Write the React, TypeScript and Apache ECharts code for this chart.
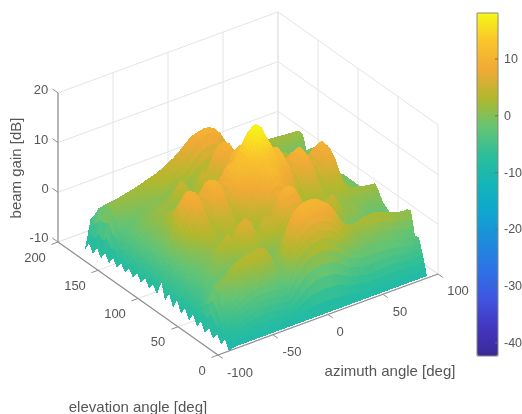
import React, { useEffect, useRef } from "react";
import * as echarts from "echarts";

const azimuth = [-90,-85,-80,-75,-70,-65,-60,-55,-50,-45,-40,-35,-30,-25,-20,-15,-10,-5,0,5,10,15,20,25,30,35,40,45,50,55,60,65,70,75,80,85,90];
const elevation = [0,5,10,15,20,25,30,35,40,45,50,55,60,65,70,75,80,85,90,95,100,105,110,115,120,125,130,135,140,145,150,155,160,165,170,175,180];
const gain = [
[-10,-9.6,-9.6,-9.6,-9.6,-9.6,-9.6,-9.6,-9.6,-9.6,-9.6,-9.6,-9.6,-9.6,-9.6,-9.6,-9.6,-9.6,-9.6,-9.6,-9.6,-9.6,-9.6,-9.6,-9.6,-9.6,-9.6,-9.6,-9.6,-9.6,-9.6,-9.6,-9.6,-9.6,-9.6,-9.6,-9.6],
[-8.3,-8,-7.5,-7,-6.6,-6.3,-6.2,-6.1,-6,-6.1,-6.3,-6.6,-7,-6,-5,-4,-3.3,-3,-3,-3,-3.2,-3.8,-4.5,-5,-5.2,-5.5,-5.8,-5.8,-5.6,-5.5,-5.5,-5.5,-5.7,-5.8,-6,-6,-6],
[-9.8,-7,-5.5,-4.5,-3.8,-3.3,-3,-2.8,-2.7,-2.7,-2.9,-3.5,-3,-0.5,1.2,2.5,3.4,3.8,4,3.8,3.4,2.6,1.4,0,-0.5,-1,-1,-1,-1,-1.2,-1.3,-1.5,-1.8,-2.2,-2.6,-2.9,-3],
[-8.3,-4.5,-2.8,-1.5,-0.6,0,0.4,0.7,0.9,0.9,0.6,-0.8,-1.5,3,5.5,7,8,8.5,8.7,8.5,8,7,5.6,3.6,2.2,0.8,-0.5,-0.8,-1,-1.2,-1.3,-1.6,-2,-2.5,-2.8,-3,-3.2],
[-9.8,-1.5,-0.3,0.8,2,2.6,3,3.4,3.7,3.9,3.6,1.5,-1,4,7,8.8,9.7,10.2,10.4,10.2,9.7,8.8,7.2,5,3.6,2.6,2.2,2.4,2.8,3,3,2.7,2.3,2,1.7,1.4,1.3],
[-8.2,0,0.5,1.3,2.5,3,3.5,3.8,4,4.2,3.8,1.8,-1.3,2.5,6,8.4,9.5,10,10.2,10,9.5,8.3,6.5,4.4,3.3,2.5,2,2.3,2.7,2.8,2.8,2.5,2,1.6,1.2,1,1],
[-9.8,-1.5,-1,-0.5,0.5,0.8,1,1.2,1.4,1.5,1.2,0.3,-1.5,0.5,3.5,5.5,7,7.5,7.6,7.4,6.8,5.4,3.6,1.8,0.8,0.5,0.5,0.8,1,1,0.8,0.4,-0.2,-0.6,-1,-1.2,-1.2],
[-8,-3,-2.6,-2,-1.5,-1,-0.8,-0.5,-0.2,0.3,0.5,0.3,-0.5,-0.5,0.5,1.5,2.5,3,3,3,2.5,1.5,0.5,-0.5,-1,-1,-1,-1,-1,-1.2,-1.5,-1.8,-2.2,-2.6,-3,-3,-3],
[-9.7,-4.5,-3,-2,-1.3,-0.7,-0.5,0,1,2.5,3.5,2.5,1,1,1,1.5,2.5,4,4.5,4,2.5,1.5,0.5,0,0,0.5,0.5,0,-0.5,-1,-1.5,-2,-2.4,-2.8,-3,-3,-3],
[-7.8,-5.5,-3.2,-1.5,-0.5,0.3,1,1.8,3,5.8,6.5,5.5,2.5,2.8,4.8,4,6,8.5,9.2,8.5,6,3.8,4.2,2.4,1.8,3.2,3.8,2.3,0.8,0,-0.5,-1,-1.8,-2.3,-2.5,-2.5,-2.5],
[-9.6,-6.2,-3.9,-1.8,-0.3,1.5,3.5,5,3.5,6.2,7,6.2,3,3.5,6,5,7.5,9.6,10.3,9.6,7.5,5,5.5,3.2,2.5,4.8,5.5,3.8,1.5,1.5,1.5,0,-1,-1.8,-1.8,-1.6,-1.5],
[-7.6,-5.2,-3.2,-1.5,-0.7,1,2.5,3.5,2,4.5,5.5,4.2,2,2.5,4.5,3.8,5.5,8.6,9.4,8.6,5.5,3.8,4,2.2,1.5,3.2,4,2.2,0.6,0.8,1,0,-0.5,-0.8,-0.8,-0.8,-1],
[-9.4,-6.2,-3.9,-2.3,-1,0.5,1.5,1.5,1,1.5,2,1.5,1,1.5,2,2.5,3.5,5,5.5,5,4,3,2.5,1.5,0.8,1,1.2,0.8,0.4,0.8,1.2,1,0.8,1,1,0.8,0.6],
[-7.2,-5,-2.6,-1.2,-0.5,1.5,3,3,1.8,3,4,3.2,1.8,2.8,4.5,5,7,9.6,10.6,9.6,7,5,4.5,2.8,1.8,3,4,2.8,1.5,2.5,3,2.5,2,2,2,1.8,1.7],
[-9.2,-6,-3.1,-1.3,0.5,3,4.5,4,2.2,3.8,5,4.2,2.2,3.8,6,7,8.5,10.8,11.8,10.8,8.5,7,6,3.8,2.2,4,5,3.8,2,3.5,4,3,2,1.5,1.2,1,0.8],
[-7,-4.9,-2,-0.4,1.8,5,6,5.2,2.6,5.2,6.5,5.8,3,5.5,8,8.5,9.5,11.3,11.7,11.3,9.5,8.5,8,5.5,3,5.6,6.5,5.2,2.6,5.2,5.8,4.5,2,0.7,0.3,0,-0.2],
[-9,-6.1,-2.7,-0.5,3,6.8,8,7.2,3.5,7,8.5,7.8,4,7.8,10,10.2,12,13.8,14.5,13.8,12,10.2,10,7.8,4,7.8,8.6,7,3.5,7.2,8,6.8,3.3,0.6,-0.3,-0.6,-0.8],
[-5.5,-5,-1.7,0.7,4.5,8,9,8.3,4.2,8.2,9.7,9,4.8,9,11.3,11.2,13.8,16,17,16,13.8,11.2,11.3,9,4.8,9,9.8,8.2,4.2,8.5,9.3,8,4.5,1.2,0,-0.7,-1],
[-8.8,-6,-2.3,0.8,5.5,8.5,9.5,8.8,4.5,8.7,10.2,9.5,5,9.5,11.8,11.5,14.5,17,18.2,17,14.5,11.5,11.8,9.5,5,9.5,10.3,8.7,4.5,9,9.8,8.5,5,1.5,0,-0.7,-1],
[-7.5,-4.6,-1.5,0.7,4,7.5,8.8,8,4,8,9.5,9,4.8,9,11.3,11.2,13.8,16,17,16,13.8,11.2,11.3,9,4.8,8.8,9.3,7.5,3.8,8,8.8,7.5,4,1,0,-0.7,-1],
[-8.7,-5.6,-2.5,-0.5,1.5,5.5,7,6.2,3,6.2,8.2,7.5,4,7.8,10,10.2,12,13.8,14.5,13.8,12,10.2,10,7.8,4,7.5,8,6.5,3,6.5,7.2,6,2.8,0.4,-0.3,-0.7,-1],
[-7.3,-4.6,-1.7,-0.3,1,3.5,5,4.5,2.4,4.5,6,5.5,3,5.5,8,8.5,9.5,11.3,11.7,11.3,9.5,8.5,8,5.5,3,5.5,6.5,5.2,2.8,5,5.5,4,1.5,0.2,-0.4,-0.8,-1],
[-8.8,-5.5,-2.3,-0.6,1,2.5,3.5,3.3,1.8,3.2,4.8,4,2.2,3.8,6,7,8.5,10.8,11.6,10.8,8.5,7,6,3.8,2.2,4,5.5,4.5,2.8,4,4.2,3,1,-0.3,-1,-1.2,-1.4],
[-7.4,-4.4,-1.7,-0.6,0,1.5,2.5,2.5,1.5,2.5,3.6,3,1.8,2.8,4.5,5,7,9.5,10.4,9.5,7,5,4.5,2.8,1.8,3.2,4.5,3.5,2,3.5,3,1.5,0,-1,-1.5,-1.8,-2],
[-8.9,-5.2,-2.7,-1.2,0.5,1.3,2,1.8,1.4,1.2,1.4,1.2,0.8,1.5,2.5,3,4,5,5.5,5,3.5,2.5,2,1.5,1,1.5,2,1.5,1,1.5,1.5,0.5,-0.5,-1.2,-1.6,-2,-2.2],
[-7.6,-4,-1.9,0,0.5,1,1.4,1.2,1,2,3.5,3,1.5,2.2,4,3.5,5.5,8.2,9,8.2,5.5,3.5,4,2,2,3,3.5,3,1.8,2.8,2,1,-0.5,-1.2,-1.5,-1.8,-2],
[-9,-4.8,-2.3,-0.2,0.2,1,1.8,1.8,1.8,3.5,5.5,4.5,2.5,3,5.5,5,7.2,9.3,10,9.3,7.2,5,6,3,2.5,4,5,4,2.5,3.5,2.5,1.5,-0.3,-1.2,-1.5,-1.8,-2],
[-7.7,-3.6,-1.7,-0.8,-0.3,0.2,0.6,1,1.3,2.3,3.5,3,1.8,2.2,4,3.5,5.5,8.2,9,8.2,5.5,3.5,4.5,2.5,2.2,3.5,4.5,3.5,2,1.8,1,0.3,-0.5,-1.5,-2,-2,-2],
[-9.2,-4.4,-3,-2,-0.8,-0.5,0,0.5,0.8,1,1.2,1,0.5,0,0.5,1.5,2.5,4,4.5,4,2.5,1.5,1,1,1,2,2.5,2,1,0,-0.5,-0.7,-1,-1.3,-0.8,0.5,0.5],
[-7.8,-2.6,-2.3,-1.6,-0.8,-0.4,0,0.3,0.4,0.5,0.6,0.5,0,0.2,0.8,1.5,2.5,3,3,3,2.5,1.5,0.5,-0.3,-0.3,0.3,0.5,0.3,-0.2,-0.5,-0.8,-1,-1.4,-1.8,-1.5,-0.5,-0.6],
[-9.4,-1,-0.6,-0.2,0.3,0.6,1,1.4,1.8,2.4,3,3.6,4,4.5,5.5,7,8,9,9.3,9.1,8.2,6.8,4.5,2,0.5,0,-0.3,-0.4,-0.2,0,0.2,0.3,-0.8,-1,-1.2,-1.6,-1.8],
[-7.9,0.8,0.9,1,1.2,1.5,1.9,2.3,2.8,3.2,3.7,4.3,5,5.6,6.5,7.8,8.8,9.6,9.9,9.7,9,7.6,5.6,3.4,2,1.5,1.2,1.2,1.4,1.6,1.8,1.8,1.7,1.6,1.5,1.4,1.3],
[-9.6,0.6,0.9,1.2,1.6,1.8,2.1,2.4,2.8,3.1,3.5,4,4.7,5.2,6,7,8,8.6,8.8,8.6,8,6.8,5,3.2,2.3,1.8,1.7,1.7,1.8,2,2,2,1.9,1.8,1.7,1.6,1.5],
[-8,0,0.2,0.3,0.5,0.6,0.8,1,1.2,1.3,1.5,1.6,1.8,2,2.7,3.4,3.9,4.2,4.3,4.2,3.8,3,2,1,0.5,0,-0.2,-0.2,0,0.2,0.3,0.3,0.2,0,0,-0.2,-0.4],
[-9.8,-1,-1,-1,-1,-1,-1,-1,-1,-1,-1,-1,-1,-1,-0.6,0,0.4,0.6,0.6,0.6,0.4,-0.2,-0.8,-1.2,-1.5,-1.8,-2,-2,-1.9,-1.8,-1.7,-1.7,-1.8,-2,-2.2,-2.4,-2.5],
[-8.3,-3,-3,-3,-3,-3,-3,-3,-3,-3,-3,-3,-3,-3,-3,-3,-3,-3,-3,-3,-3,-3.5,-4,-4.5,-5,-5,-5,-5,-5,-5,-5,-5,-5,-5,-5,-5,-5],
[-10,-4.4,-4.5,-4.5,-5,-5,-5,-5,-5,-5,-5,-5,-5,-5,-5,-5,-5,-5,-5,-5,-5,-5.5,-6,-6.5,-7,-7,-7,-7,-7,-7,-7,-7,-7,-7,-7,-7,-7],
];

const azimuthTicks = [-100, -50, 0, 50, 100];
const elevationTicks = [0, 50, 100, 150, 200];
const gainTicks = [-10, 0, 10, 20];
const colorbarTicks = [10, 0, -10, -20, -30, -40];
const colorMin = -42.3;
const colorMax = 18.1;
const parula = ["#3a2a98","#4336c0","#3f55e0","#2d72e6","#1e8bdc","#0fa5d0","#14b5b8","#2cbe9a","#64c474","#b0b82e","#f0aa36","#fac42c","#f6f816"];

const FONT = '"Liberation Sans", Arial, sans-serif';
const TEXT = "#565656";

// oblique view of the box: pixels per unit along azimuth, elevation and gain
function project(az: number, el: number, z: number): number[] {
  const a = az + 100;
  return [218 + a * 1.1 - el * 0.8, 355 - a * 0.405 - el * 0.565 - (z + 10) * 4.97];
}

function line(p: number[], q: number[], stroke: string, z: number, lineWidth = 1) {
  return { type: "line", z, silent: true, shape: { x1: p[0], y1: p[1], x2: q[0], y2: q[1] }, style: { stroke, lineWidth } };
}
function label(text: string, x: number, y: number, fontSize = 13, extra: any = {}) {
  return { type: "text", z: 5, silent: true, x, y, ...extra, style: { text, fill: TEXT, font: `${fontSize}px ${FONT}`, align: "center", verticalAlign: "middle" } };
}

const SUB = 3;
function buildCells() {
  const out: number[][] = [];
  for (let j = elevation.length - 2; j >= 0; j--) {
    for (let i = azimuth.length - 2; i >= 0; i--) {
      const z00 = gain[j][i], z10 = gain[j][i + 1], z01 = gain[j + 1][i], z11 = gain[j + 1][i + 1];
      const at = (u: number, v: number) => z00 * (1 - u) * (1 - v) + z10 * u * (1 - v) + z01 * (1 - u) * v + z11 * u * v;
      const dA = azimuth[i + 1] - azimuth[i], dE = elevation[j + 1] - elevation[j];
      for (let s = SUB - 1; s >= 0; s--) {
        for (let r = SUB - 1; r >= 0; r--) {
          const u0 = r / SUB, u1 = (r + 1) / SUB, v0 = s / SUB, v1 = (s + 1) / SUB;
          out.push([
            azimuth[i] + u0 * dA, azimuth[i] + u1 * dA, elevation[j] + v0 * dE, elevation[j] + v1 * dE,
            at(u0, v0), at(u1, v0), at(u1, v1), at(u0, v1),
            at((u0 + u1) / 2, (v0 + v1) / 2),
          ]);
        }
      }
    }
  }
  return out;
}

function buildGraphics() {
  const g: any[] = [];
  const GRID = "#e4e4e4", AXIS = "#8f8f8f";
  // walls and floor
  for (const z of gainTicks) {
    g.push(line(project(-100, 200, z), project(100, 200, z), GRID, 1));
    g.push(line(project(100, 200, z), project(100, 0, z), GRID, 1));
  }
  for (const a of azimuthTicks) {
    g.push(line(project(a, 200, -10), project(a, 200, 20), GRID, 1));
    g.push(line(project(a, 0, -10), project(a, 200, -10), GRID, 1));
  }
  for (const e of elevationTicks) {
    g.push(line(project(100, e, -10), project(100, e, 20), GRID, 1));
    g.push(line(project(-100, e, -10), project(100, e, -10), GRID, 1));
  }
  // axes
  g.push(line(project(-100, 200, -10), project(-100, 200, 20), AXIS, 4, 1.2));
  g.push(line(project(-100, 200, -10), project(-100, 0, -10), AXIS, 4, 1.2));
  g.push(line(project(-100, 0, -10), project(100, 0, -10), AXIS, 4, 1.2));
  for (const z of gainTicks) g.push(line(project(-100, 200, z), project(-100, 207, z), AXIS, 4));
  for (const e of elevationTicks) g.push(line(project(-100, e, -10), project(-106, e, -10), AXIS, 4));
  for (const a of azimuthTicks) g.push(line(project(a, 0, -10), project(a, -6, -10), AXIS, 4));
  // tick labels
  const zPos = [[39, 237], [45, 188], [41, 139], [41, 89]];
  gainTicks.forEach((t, i) => g.push(label(String(t), zPos[i][0], zPos[i][1])));
  const ePos = [[202, 370], [158, 341], [115, 313], [75, 285], [35, 257]];
  elevationTicks.forEach((t, i) => g.push(label(String(t), ePos[i][0], ePos[i][1])));
  const aPos = [[240, 372], [292, 351], [340, 331], [400, 311], [458, 290]];
  azimuthTicks.forEach((t, i) => g.push(label(String(t), aPos[i][0], aPos[i][1])));
  // axis titles
  g.push(label("azimuth angle [deg]", 390, 370, 15));
  g.push(label("elevation angle [deg]", 138, 406, 15));
  g.push(label("beam gain [dB]", 15, 168, 15, { rotation: Math.PI / 2 }));
  // colorbar
  const barTop = 13, barBottom = 356, barL = 477, barR = 498;
  g.push({ type: "rect", z: 6, silent: true, shape: { x: barL, y: barTop, width: barR - barL, height: barBottom - barTop }, style: { fill: "none", stroke: "#8a8a7a", lineWidth: 1 } });
  for (const t of colorbarTicks) {
    const y = barTop + ((colorMax - t) / (colorMax - colorMin)) * (barBottom - barTop);
    g.push(line([barR - 3, y], [barR, y], "#6f6f5a", 6));
    g.push({ type: "text", z: 6, silent: true, x: 504, y, style: { text: String(t), fill: TEXT, font: `12.5px ${FONT}`, align: "left", verticalAlign: "middle" } });
  }
  return g;
}

export default function App() {
  const ref = useRef<HTMLDivElement>(null);
  useEffect(() => {
    document.body.style.margin = "0";
    const chart = echarts.init(ref.current!, undefined, { renderer: "svg" });
    chart.setOption({
      animation: false,
      backgroundColor: "#ffffff",
      graphic: { elements: buildGraphics() },
      visualMap: {
        type: "continuous",
        min: colorMin,
        max: colorMax,
        dimension: 8,
        seriesIndex: 0,
        left: 477,
        top: 13,
        padding: 0,
        itemWidth: 21,
        itemHeight: 343,
        calculable: false,
        hoverLink: false,
        text: null,
        inRange: { color: parula },
      },
      series: [
        {
          type: "custom",
          coordinateSystem: "none",
          silent: true,
          clip: false,
          z: 3,
          progressive: 0,
          data: buildCells(),
          renderItem: (_p: any, api: any) => {
            const a0 = api.value(0), a1 = api.value(1), e0 = api.value(2), e1 = api.value(3);
            return {
              type: "polygon",
              shape: {
                points: [
                  project(a0, e0, api.value(4)),
                  project(a1, e0, api.value(5)),
                  project(a1, e1, api.value(6)),
                  project(a0, e1, api.value(7)),
                ],
              },
              style: { fill: api.visual("color"), stroke: "none" },
            };
          },
        },
      ],
    });
    return () => chart.dispose();
  }, []);
  return (
    <>
      <style>{`svg path:not([fill="none"]) { shape-rendering: crispEdges; }`}</style>
      <div ref={ref} style={{ width: 522, height: 414, filter: "blur(0.6px)" }} />
    </>
  );
}
